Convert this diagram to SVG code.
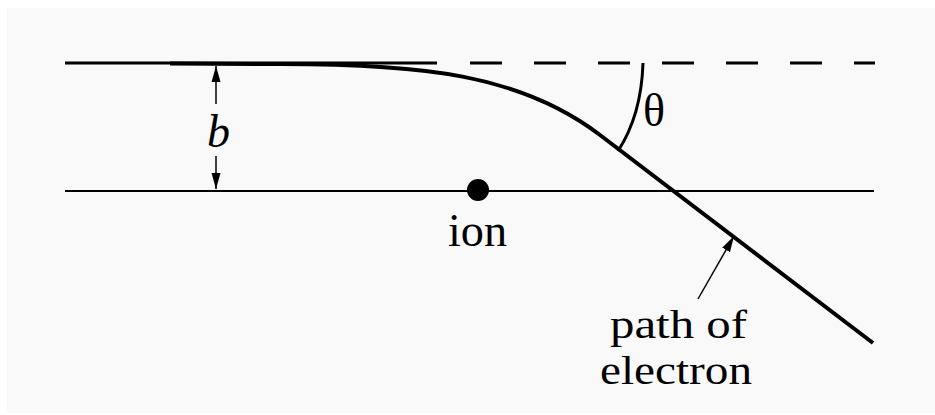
<svg xmlns="http://www.w3.org/2000/svg" width="935" height="415" viewBox="0 0 935 415">
<style>
.ln{fill:none;stroke:#000;stroke-linecap:butt}
.t{font-family:"Liberation Serif","Times New Roman",serif;fill:#000}
</style>
<defs>
<marker id="ahb" viewBox="0 0 16 10" refX="16" refY="5" markerWidth="16" markerHeight="10" markerUnits="userSpaceOnUse" orient="auto">
<path d="M0,0.5 L16,5 L0,9.5 Z" fill="#000"/>
</marker>
</defs>
<rect x="7" y="8" width="928" height="405" fill="#f9f9f9"/>
<g id="reference-lines">
<line class="ln" x1="65" y1="63" x2="437" y2="63" stroke-width="3"/>
<line class="ln" x1="470" y1="63" x2="875" y2="63" stroke-width="3" stroke-dasharray="32 32" stroke="#222"/>
<line class="ln" x1="65" y1="191" x2="874" y2="191" stroke-width="2"/>
</g>
<g id="electron-path">
<path class="ln" d="M170,63.5 L280,64 C420,64 520,74 600,135 L873,343" stroke-width="4"/>
</g>
<g id="ion">
<circle cx="478" cy="190" r="11" fill="#000"/>
<text class="t" x="448" y="246" font-size="46" textLength="59" lengthAdjust="spacingAndGlyphs">ion</text>
</g>
<g id="theta">
<path class="ln" d="M643,63 C642,95 635,125 618,151" stroke-width="3"/>
<text class="t" x="643" y="126" font-size="46">θ</text>
</g>
<g id="impact-b">
<text class="t" x="207" y="147" font-size="46" font-style="italic">b</text>
</g>
<g id="connectors">
<line class="ln" x1="216" y1="104" x2="216" y2="66" stroke-width="1.5" marker-end="url(#ahb)"/>
<line class="ln" x1="216" y1="156" x2="216" y2="189" stroke-width="1.5" marker-end="url(#ahb)"/>
<line class="ln" x1="698" y1="299" x2="734" y2="236" stroke-width="1.5" marker-end="url(#ahb)"/>
</g>
<g id="label-path">
<text class="t" x="610" y="338" font-size="41" textLength="137" lengthAdjust="spacingAndGlyphs">path of</text>
<text class="t" x="600" y="384" font-size="41" textLength="152" lengthAdjust="spacingAndGlyphs">electron</text>
</g>
</svg>
